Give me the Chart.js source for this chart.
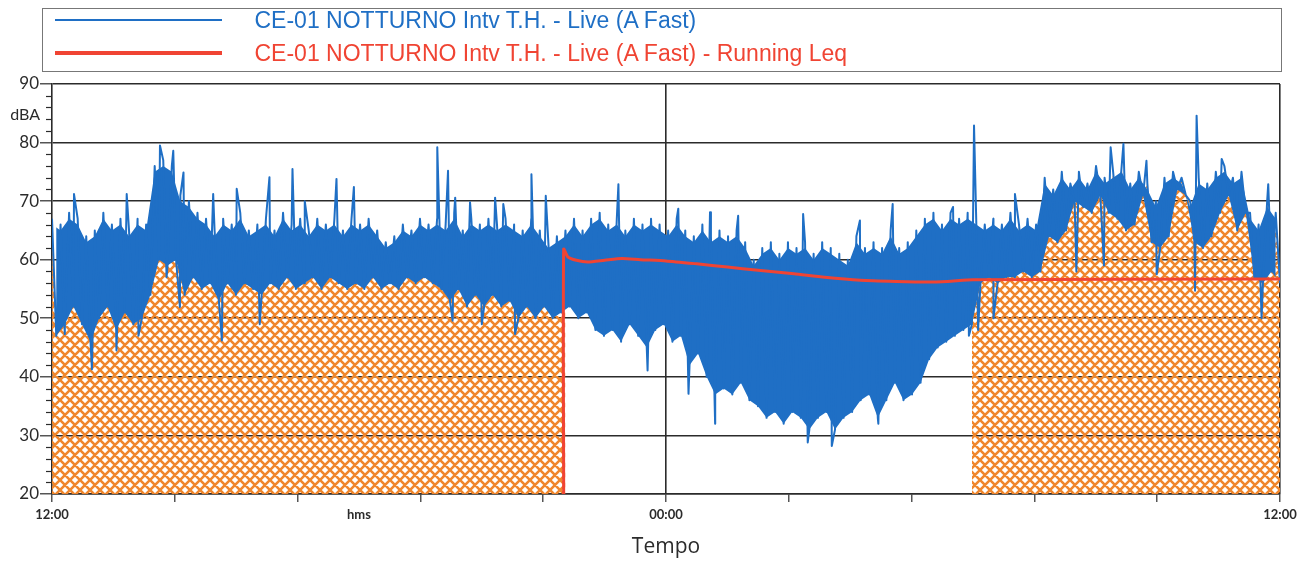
<!DOCTYPE html>
<html><head><meta charset="utf-8">
<script src="https://cdn.jsdelivr.net/npm/chart.js@4.4.0/dist/chart.umd.min.js"></script>
<style>
html,body{margin:0;padding:0;background:#fff;}
#wrap{position:relative;width:1306px;height:562px;overflow:hidden;}
#c{position:absolute;left:0;top:0;}
#legend{position:absolute;left:42px;top:8px;width:1240px;height:64px;border:1.5px solid #777;box-sizing:border-box;font-family:"Liberation Sans",Arial,sans-serif;font-size:23px;background:#fff;}
.sw{position:absolute;left:11.5px;width:167px;}
.lbl{position:absolute;left:211.5px;white-space:nowrap;line-height:1;transform:translateY(-50%);}
</style></head>
<body>
<div id="wrap">
<canvas id="c" width="1306" height="562"></canvas>
<div id="legend">
 <div class="sw" style="top:9.5px;height:2px;background:#1f6fc5"></div>
 <div class="lbl" style="top:11px;color:#1f6fc5">CE-01 NOTTURNO Intv T.H. - Live (A Fast)</div>
 <div class="sw" style="top:41.5px;height:4px;background:#f04433"></div>
 <div class="lbl" style="top:44px;color:#f04433">CE-01 NOTTURNO Intv T.H. - Live (A Fast) - Running Leq</div>
</div>
</div>
<script>
// ---- DATA (hours after 12:00; 10-minute bins, max / min of the live level) ----
const upper = [
67,66,68,67,64,65,68,66,67,65, 67,66,76,77,76,71,70,68,67,65,
67,66,68,65,66,67,65,68,66,67, 65,67,66,67,65,67,66,67,65,63,
64,66,65,67,66,67,66,68,65,67, 66,67,66,67,66,65,67,65,63,64,
65,67,65,67,68,66,67,65,67,66, 67,66,65,67,65,64,66,64,65,64,
65,63,60,62,63,61,63,62,63,61, 63,62,61,60,64,62,63,62,65,62,
63,65,67,68,66,68,67,68,67,66, 67,66,68,66,67,66,74,72,75,73,
75,73,76,74,75,76,73,75,73,70, 74,75,74,70,74,73,75,76,74,75,
68,66,70,68];
const lower = [
47,49,52,49,46,50,52,48,51,49, 50,54,60,59,60,54,57,55,56,53,
56,54,56,55,54,56,55,57,55,56, 57,55,57,56,55,56,55,57,55,56,
55,57,56,57,56,55,53,55,52,54, 52,54,52,53,50,52,50,52,50,51,
52,50,51,48,47,48,46,49,47,45, 48,49,46,47,42,44,40,37,38,37,
39,36,35,33,34,32,34,33,31,33, 34,31,33,34,36,37,33,36,39,36,
37,39,43,45,46,47,48,49,56,57, 56,57,57,58,57,58,64,63,65,70,
69,68,71,68,67,65,66,71,63,62, 64,72,71,63,62,64,68,71,65,68,
57,56,58,56];
const peakHours  = [0.43,1.46,2.11,2.37,2.57,3.15,3.61,4.25,4.70,4.94,5.56,5.90,7.53,7.74,7.88,8.17,8.66,8.82,9.37,9.65,11.07,12.24,12.86,13.41,14.68,15.79,16.43,17.61,18.02,18.82,20.69,20.94,21.39,22.37,22.86,23.77];
const peakValues = [71.2,71.2,79.5,78.6,74.9,71.2,72.1,74.1,75.5,70,73.8,72.4,79.2,75.2,70.6,69.8,70.6,69.5,74.6,70.9,72.9,68.7,68.1,67.5,67.8,66.7,69.5,69,82.9,71.2,79.2,79.8,76.9,84.6,77.2,72.9];
const dipHours  = [0.25,0.78,1.26,1.69,2.24,2.50,3.32,4.06,7.83,8.40,9.05,11.64,12.44,12.96,14.77,15.24,16.15,17.92,18.10,18.40,20.02,20.56,21.59,22.34,23.64];
const dipValues = [47.3,41.3,44.5,47,57,51.9,46.2,49,49.6,49,47.3,41.1,37.1,32,28.8,28.2,32,47,48,50,58,59,57.5,54.7,50];
const leqHours  = [10,10,10.08,10.25,10.47,10.8,11.14,11.5,12,12.6,13.2,13.8,14.5,15.1,15.8,16.5,17.1,17.5,18,24];
const leqValues = [20,61.8,60.5,59.9,59.6,59.9,60.2,60.0,59.8,59.3,58.75,58.2,57.6,57.0,56.5,56.3,56.2,56.3,56.6,56.7];
const xTickHours = [0,2.4,4.8,6,7.2,9.6,12,14.4,16.8,19.2,21.6,24];
const xTickLabels = ['12:00','','','hms','','','00:00','','','','','12:00'];
const nightStart = 10, nightEnd = 18;

// ---- build series ----
const coreInsetTop = 1.0; // drawing: solid core of the noisy band, top fringe left to the trace
const n = upper.length * 2;
const zig = [];
for (let k = 0; k < n; k++) {
  const i = Math.floor(k / 2);
  zig.push({x: k * 24 / (n - 1), y: (k % 2 === 0) ? upper[i] : lower[i]});
}
const blue = zig.slice();
peakHours.forEach((h, j) => blue.push({x: h, y: peakValues[j]}));
dipHours.forEach((h, j) => blue.push({x: h, y: dipValues[j]}));
blue.sort((a, b) => a.x - b.x);
const bandTop = upper.map((v, i) => ({x: zig[2 * i].x, y: Math.max(v - coreInsetTop, lower[i])}));
const bandBottom = lower.map((v, i) => ({x: zig[2 * i + 1].x, y: v}));
const hatchData = zig.map(p => ({x: p.x, y: (p.x > nightStart + 0.04 && p.x < nightEnd - 0.05) ? null : p.y}));
const leq = leqHours.map((h, j) => ({x: h, y: leqValues[j]}));

const ctx = document.getElementById('c').getContext('2d');
const hatch = ctx.createPattern((function () {
  const s = 10, c = document.createElement('canvas');
  c.width = c.height = s;
  const g = c.getContext('2d');
  g.strokeStyle = '#f0872d'; g.lineWidth = 2.6;
  g.beginPath();
  for (let k = -1; k <= 1; k++) { g.moveTo(0, k * s); g.lineTo(s, s + k * s); }
  for (let k = 0; k <= 2; k++) { g.moveTo(0, k * s); g.lineTo(s, k * s - s); }
  g.stroke();
  return c;
})(), 'repeat');

const BLUE = '#1f6fc5', RED = '#f04433', AX = '#2b2b2b';

const extras = {
  id: 'extras',
  afterDraw(chart) {
    const y = chart.scales.y, g = chart.ctx;
    g.save();
    g.strokeStyle = AX; g.lineWidth = 1.2;
    for (let v = 22; v < 90; v += 2) {
      if (v % 10 === 0) continue;
      const py = Math.round(y.getPixelForValue(v)) + 0.5;
      g.beginPath(); g.moveTo(y.right - 6, py); g.lineTo(y.right, py); g.stroke();
    }
    g.fillStyle = AX; g.font = '16px Lato'; g.textAlign = 'right'; g.textBaseline = 'middle';
    g.fillText('dBA', 40, y.getPixelForValue(84.7));
    g.restore();
  }
};

new Chart(ctx, {
  type: 'line',
  data: {
    datasets: [
      {label: 'Running Leq', data: leq, borderColor: RED, borderWidth: 3, pointRadius: 0, fill: false, order: 0, tension: 0.2},
      {label: 'Live', data: blue, borderColor: BLUE, borderWidth: 2, pointRadius: 0, fill: false, order: 1, borderJoinStyle: 'round'},
      {label: 'bandTop', data: bandTop, borderColor: 'rgba(0,0,0,0)', borderWidth: 0, pointRadius: 0, backgroundColor: BLUE, fill: '+1', order: 2},
      {label: 'bandBottom', data: bandBottom, borderColor: 'rgba(0,0,0,0)', borderWidth: 0, pointRadius: 0, fill: false, order: 3},
      {label: 'hatch', data: hatchData, borderColor: 'rgba(0,0,0,0)', borderWidth: 0, pointRadius: 0, backgroundColor: hatch, fill: 'start', spanGaps: false, order: 4}
    ]
  },
  options: {
    responsive: false, animation: false, events: [],
    layout: {padding: {left: 0, right: 26, top: 84, bottom: 0}},
    plugins: {legend: {display: false}, tooltip: {enabled: false}},
    scales: {
      x: {
        type: 'linear', min: 0, max: 24,
        afterBuildTicks(s) { s.ticks = xTickHours.map(v => ({value: v})); },
        afterFit(s) { s.height = 68; },
        ticks: {
          autoSkip: false, maxRotation: 0, color: AX, padding: 5,
          font: {family: 'Lato', size: 13, weight: 'bold'},
          callback(v) { const j = xTickHours.findIndex(h => Math.abs(h - v) < 1e-6); return j >= 0 ? xTickLabels[j] : ''; }
        },
        grid: {
          color: c => (c.tick && (Math.abs(c.tick.value - 12) < 1e-6 || Math.abs(c.tick.value - 24) < 1e-6)) ? AX : 'rgba(0,0,0,0)',
          tickColor: c => (c.tick && Math.abs(c.tick.value - 6) < 1e-6) ? 'rgba(0,0,0,0)' : AX,
          lineWidth: 1.6, tickLength: 8, tickWidth: 1.2
        },
        border: {color: AX, width: 1.6},
        title: {display: true, text: 'Tempo', color: AX, font: {family: 'Open Sans', size: 21}, padding: {top: 0, bottom: 2}}
      },
      y: {
        min: 20, max: 90,
        afterFit(s) { s.width = 52; },
        ticks: {stepSize: 10, color: AX, padding: 1, font: {family: 'Lato', size: 17}},
        grid: {color: AX, lineWidth: 1.6, tickLength: 12, tickColor: AX, tickWidth: 1.2},
        border: {color: AX, width: 1.6}
      }
    }
  },
  plugins: [extras]
});
</script>
</body></html>
